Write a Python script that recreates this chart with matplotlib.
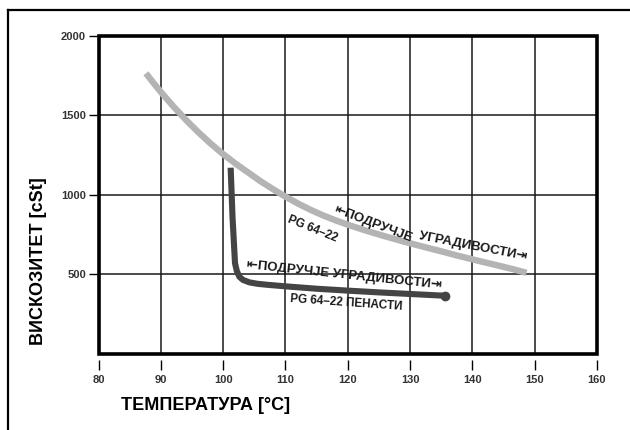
import matplotlib
matplotlib.use('Agg')
import matplotlib.pyplot as plt
from matplotlib.lines import Line2D
from matplotlib.patches import Rectangle

# PG 64-22 (light gray curve)
pg_temp = [87.6, 89, 90, 92, 94, 96, 98, 100, 102, 104, 106, 108, 110, 112,
           114, 116, 118, 120, 123, 126, 129, 132, 135, 138, 141, 144, 146.5, 148.7]
pg_visc = [1763, 1693, 1645, 1555, 1471, 1393, 1321, 1255, 1195, 1140, 1085, 1035,
           988, 945, 906, 871, 840, 812, 774, 739, 706, 675, 645, 614, 585, 557, 533, 510]

# PG 64-22 foamed (dark curve)
foam_temp = [101.2, 101.5, 101.9, 102.2, 102.6, 103.2, 104.2, 105.5, 107, 110,
             115, 120, 125, 130, 135.6]
foam_visc = [1170, 860, 570, 520, 485, 465, 450, 441, 435, 425,
             410, 398, 387, 377, 366]

x_ticks = [80, 90, 100, 110, 120, 130, 140, 150, 160]
y_ticks = [500, 1000, 1500, 2000]

FONT = ['Liberation Sans Narrow', 'Liberation Sans', 'DejaVu Sans']
plt.rcParams['font.family'] = FONT

fig = plt.figure(figsize=(6.3, 4.3), dpi=100)
ax = fig.add_axes([0.1565, 0.1767, 0.791, 0.7407])

ax.set_xlim(80, 160)
ax.set_ylim(0, 2000)
ax.set_xticks(x_ticks)
ax.set_yticks(y_ticks)
ax.grid(True, color='#1a1a1a', lw=1.1)
ax.set_axisbelow(True)

# thick frame drawn as a patch, x ticks pushed a little below it
for s in ax.spines.values():
    s.set_visible(False)
ax.spines['bottom'].set_position(('outward', 4))
ax.add_patch(Rectangle((0, 0), 1, 1, transform=ax.transAxes, fill=False,
                       ec='black', lw=2.6, clip_on=False, zorder=4))

ax.tick_params(axis='x', length=7, width=1, pad=4, labelsize=8)
ax.tick_params(axis='y', length=7, width=1, pad=2, labelsize=8)
for lab in ax.get_xticklabels() + ax.get_yticklabels():
    lab.set_fontweight('bold')
    lab.set_color('#333333')

ax.plot(pg_temp, pg_visc, color='#b4b4b4', lw=4.6, solid_capstyle='butt', zorder=2)
ax.plot(foam_temp, foam_visc, color='#444444', lw=4.4, solid_capstyle='butt', zorder=3)
ax.plot(foam_temp[-1], foam_visc[-1], 'o', color='#444444', ms=6, zorder=3)

txt = dict(fontweight='bold', color='#1a1a1a', va='center',
           rotation_mode='anchor', family=FONT)
ax.text(114.4, 782, 'PG 64–22', rotation=-22, fontsize=8.5, ha='center', **txt)
ax.text(117.9, 906, '⇤ПОДРУЧЈЕ', rotation=-21, fontsize=9.5, ha='left', **txt)
ax.text(148.7, 608, 'УГРАДИВОСТИ⇥', rotation=-11, fontsize=9.5, ha='right', **txt)
ax.text(119.5, 495, '⇤ПОДРУЧЈЕ УГРАДИВОСТИ⇥', rotation=-6, fontsize=9.5, ha='center', **txt)
ax.text(119.7, 322, 'PG 64–22 ПЕНАСТИ', rotation=-4, fontsize=8.5, ha='center', **txt)

fig.text(39 / 630, 1 - 261 / 430, 'ВИСКОЗИТЕТ [cSt]', rotation=90, ha='center',
         va='center', fontsize=13, fontweight='bold', family=['Liberation Sans', 'DejaVu Sans'])
fig.text(205.5 / 630, 1 - 405 / 430, 'ТЕМПЕРАТУРА [°C]', ha='center', va='center',
         fontsize=13, fontweight='bold', family=['Liberation Sans', 'DejaVu Sans'])

# outer frame (top and left edges only)
fig.add_artist(Line2D([7.5 / 630, 1], [1 - 9.5 / 430] * 2, color='black', lw=1.6))
fig.add_artist(Line2D([7.5 / 630] * 2, [0, 1 - 9.5 / 430], color='black', lw=1.6))

fig.savefig('out.png', dpi=100)
